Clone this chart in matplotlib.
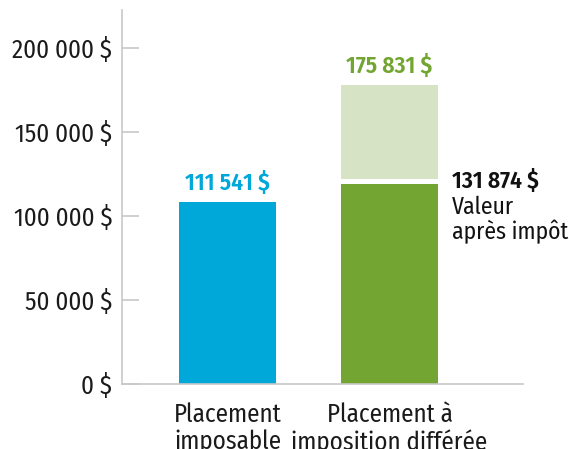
import matplotlib
matplotlib.use("Agg")
import matplotlib.pyplot as plt

plt.rcParams['font.family'] = ['Fira Sans Condensed', 'DejaVu Sans']

categories = ["Placement\nimposable", "Placement à\nimposition différée"]
blue_height = 108300
dark_height = 119000
light_bottom = 122000
light_top = 178000
blue_label = "111 541 $"
green_label = "175 831 $"
after_tax_label = "131 874 $"
after_tax_text = "Valeur\naprès impôt"
yticks = [0, 50000, 100000, 150000, 200000]
ytick_labels = ["0 $", "50 000 $", "100 000 $", "150 000 $", "200 000 $"]

BLUE = "#00a7d9"
GREEN = "#72a532"
LIGHT = "#d6e4c5"
GREY = "#c8c8c8"
FS = 18

fig = plt.figure(figsize=(5.69, 4.49), dpi=100)
ax = fig.add_axes([122/569, 1-384/449, (523-122)/569, (384-10)/449])

w = 0.6
ax.bar(0, blue_height, width=w, color=BLUE)
ax.bar(1, dark_height, width=w, color=GREEN)
ax.bar(1, light_top - light_bottom, bottom=light_bottom, width=w, color=LIGHT)

ax.set_xlim(-0.651, 1.824)
ax.set_ylim(0, 222600)

for s in ["top", "right"]:
    ax.spines[s].set_visible(False)
for s in ["left", "bottom"]:
    ax.spines[s].set_color(GREY)
    ax.spines[s].set_linewidth(1.2)

ax.set_yticks(yticks)
ax.set_yticklabels(ytick_labels)
ax.tick_params(axis="y", direction="in", length=12.2, width=1.2, color=GREY,
               pad=7, labelsize=FS, labelcolor="#1a1a1a")
ax.set_xticks([0, 1])
ax.set_xticklabels(categories, linespacing=1.12)
ax.tick_params(axis="x", length=0, pad=13, labelsize=FS, labelcolor="#1a1a1a")

ax.annotate(blue_label, (0, blue_height), xytext=(0, 8.6), textcoords="offset points",
            ha="center", va="baseline", color=BLUE, fontsize=17, fontweight="semibold")
ax.annotate(green_label, (1, light_top), xytext=(0, 8.6), textcoords="offset points",
            ha="center", va="baseline", color=GREEN, fontsize=17, fontweight="semibold")
ax.annotate(after_tax_label, (1 + w/2, 116700), xytext=(10, 0), textcoords="offset points",
            ha="left", va="baseline", color="#111111", fontsize=17, fontweight="semibold")
ax.annotate(after_tax_text, (1 + w/2, 112000), xytext=(10, 0), textcoords="offset points",
            ha="left", va="top", color="#111111", fontsize=17, linespacing=1.05)

fig.savefig("out.png", dpi=100)
